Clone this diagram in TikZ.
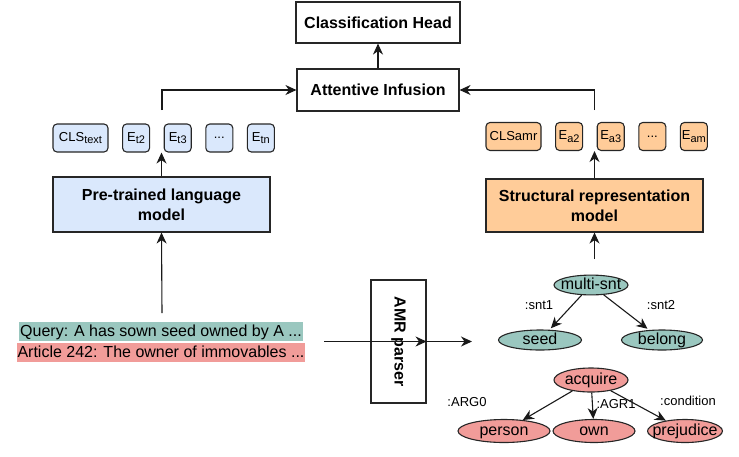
\documentclass[tikz,border=0pt]{standalone}
\usepackage{fontspec}
\setmainfont{Liberation Sans}
\usetikzlibrary{arrows.meta, positioning, shapes.geometric}
\usepackage{xcolor}
\definecolor{lmblue}{HTML}{DAE8FC}
\definecolor{amrorange}{HTML}{FFCC99}
\definecolor{queryteal}{HTML}{9AC7BF}
\definecolor{articlered}{HTML}{F19C99}
\newcommand{\tsub}[1]{\raisebox{-2.5pt}{\fontsize{11}{11}\selectfont #1}}

\begin{document}
\begin{tikzpicture}[x=1pt,y=-1pt,line width=1.1pt,draw=black!90,-{Stealth[length=11pt,width=10pt,inset=3.5pt]}, node distance=13.5pt]
    \tikzstyle{every node}=[font=\fontsize{16}{20}\selectfont]
    \tikzstyle{block}=[rectangle, draw=black!85, inner sep=0pt, align=center, font=\fontsize{16}{20}\selectfont\bfseries]
    \tikzstyle{model block}=[block, minimum width=217pt]
    \tikzstyle{token}=[rectangle, rounded corners=4pt, draw=black!85, minimum height=28pt, minimum width=27pt, inner sep=0pt, font=\fontsize{13}{15}\selectfont]
    \tikzstyle{text token}=[token, fill=lmblue]
    \tikzstyle{amr token}=[token, fill=amrorange]
    \tikzstyle{concept}=[ellipse, draw=black!85, inner xsep=-6pt, inner ysep=0pt, text height=11pt, text depth=3pt, minimum height=20pt]
    \tikzstyle{query concept}=[concept, fill=queryteal]
    \tikzstyle{article concept}=[concept, fill=articlered]
    \tikzstyle{role}=[font=\fontsize{13}{15}\selectfont, inner sep=0pt]
    \tikzstyle{input text}=[inner xsep=1pt, inner ysep=1.5pt, text height=12.5pt, text depth=3.5pt]

    \useasboundingbox (0,0) rectangle (739,456);

    % top
    \node[block, minimum width=164pt, minimum height=41pt] (head) at (378,22.5) {Classification Head};
    \node[block, minimum width=162pt, minimum height=42pt] (infusion) at (378,90) {Attentive Infusion};

    % text side
    \node[text token, minimum width=55pt] (cls-t) at (80.5,138) {CLS\tsub{text}};
    \node[text token, right=of cls-t] (E-t2) {E\tsub{t2}};
    \node[text token, right=of E-t2] (E-t3) {E\tsub{t3}};
    \node[text token, right=of E-t3] (dots-t) {...};
    \node[text token, right=of dots-t] (E-tn) {E\tsub{tn}};
    \node[model block, fill=lmblue, minimum height=55pt] (plm) at (161.5,204.5) {Pre-trained language\\model};

    \node[input text, fill=queryteal] (query) at (161,331.5) {Query: A has sown seed owned by A ...};
    \node[input text, fill=articlered, below=1pt of query] (article) {Article 242: The owner of immovables ...};

    % amr side
    \node[block, rotate=-90, minimum width=123pt, minimum height=55pt] (parser) at (398.5,341.5) {AMR parser};

    \node[amr token, minimum width=55pt] (cls-a) at (513.5,136.5) {CLSamr};
    \node[amr token, right=of cls-a] (E-a2) {E\tsub{a2}};
    \node[amr token, right=of E-a2] (E-a3) {E\tsub{a3}};
    \node[amr token, right=of E-a3] (dots-a) {...};
    \node[amr token, right=of dots-a] (E-am) {E\tsub{am}};
    \node[model block, fill=amrorange, minimum height=53pt] (srm) at (594.5,205.5) {Structural representation\\model};

    \node[query concept, minimum width=74pt, minimum height=18pt] (multi) at (591,285) {multi-snt};
    \node[query concept, minimum width=83pt] (seed) at (540,340) {seed};
    \node[query concept, minimum width=81pt] (belong) at (662,340) {belong};

    \node[article concept, minimum width=74pt, minimum height=24pt] (acquire) at (591,380) {acquire};
    \node[article concept, minimum width=92pt, minimum height=23pt] (person) at (504,431) {person};
    \node[article concept, minimum width=82pt, minimum height=23pt] (own) at (594,431) {own};
    \node[article concept, minimum width=74pt, minimum height=23pt] (prejudice) at (685,431) {prejudice};

    \node[role] (snt1) at (539,305) {:snt1};
    \node[role] (snt2) at (661,305) {:snt2};
    \node[role] (arg0) at (467,402) {:ARG0};
    \node[role] (agr1) at (616,404) {:AGR1};
    \node[role] (cond) at (688,401) {:condition};

    \coordinate (plm-out) at (162,110);
    \coordinate (srm-out) at (594.5,110);
    \coordinate (query-top) at (162,313);
    \coordinate (text-out) at (324,341.5);
    \coordinate (graph-in) at (472,341.5);
    \coordinate (graph-top) at (594.5,259);

    \draw (infusion) -- (head);
    \draw (plm-out) |- (infusion.west);
    \draw (srm-out) |- (infusion.east);
    \draw (plm.north) -- (plm.north |- E-t3.south);
    \draw (srm.north) -- (srm.north |- E-a3.south);
    \draw (query-top) -- (plm.south);
    \draw (graph-top) -- (srm.south);
    \draw (text-out) -- (parser.north);
    \draw (parser.south) -- (graph-in);

    \draw[shorten >=2pt] (multi) -- (seed);
    \draw[shorten >=2pt] (multi) -- (belong);
    \draw (acquire) -- (person);
    \draw (acquire) -- (own);
    \draw (acquire) -- (prejudice);
\end{tikzpicture}
\end{document}
